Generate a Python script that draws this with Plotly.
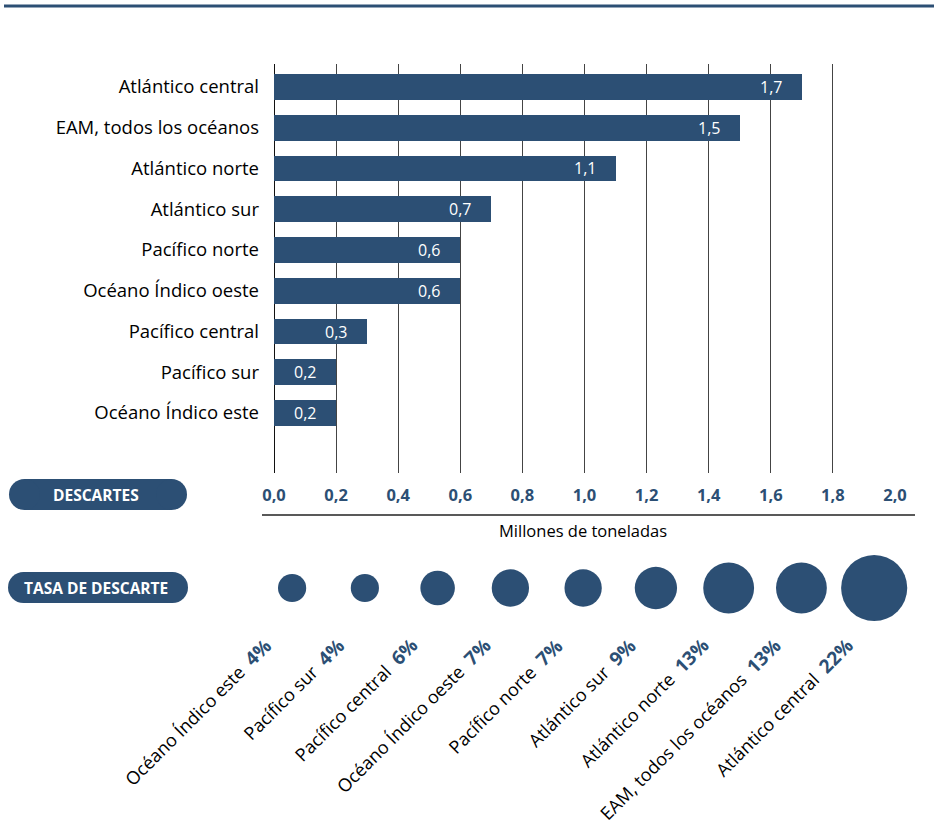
import math
import plotly.graph_objects as go

# ---------------- data ----------------
regions = [
    "Atlántico central",
    "EAM, todos los océanos",
    "Atlántico norte",
    "Atlántico sur",
    "Pacífico norte",
    "Océano Índico oeste",
    "Pacífico central",
    "Pacífico sur",
    "Océano Índico este",
]
descartes = [1.7, 1.5, 1.1, 0.7, 0.6, 0.6, 0.3, 0.2, 0.2]   # millones de toneladas
tasa = [22, 13, 13, 9, 7, 7, 6, 4, 4]                       # tasa de descarte, %
x_ticks = [0.0, 0.2, 0.4, 0.6, 0.8, 1.0, 1.2, 1.4, 1.6, 1.8, 2.0]
x_title = "Millones de toneladas"
pill_1 = "DESCARTES"
pill_2 = "TASA DE DESCARTE"

# ---------------- style ----------------
W, H = 934, 823
BLUE = "#2c4f74"
FONT = "Open Sans"


def X(px):
    return px / W


def Y(py):
    return 1 - py / H


def fmt(v):
    return f"{v:.1f}".replace(".", ",")


fig = go.Figure()

# bars
fig.add_trace(go.Bar(
    x=descartes, y=regions, orientation="h",
    marker=dict(color=BLUE, line=dict(width=0)),
    width=0.63, hoverinfo="skip", showlegend=False,
    xaxis="x", yaxis="y",
))

# circles (ascending order of rate)
c_regions = regions[::-1]
c_tasa = tasa[::-1]
c_idx = list(range(len(c_regions)))
fig.add_trace(go.Scatter(
    x=c_idx, y=[0] * len(c_idx), mode="markers",
    marker=dict(color=BLUE, size=[14.1 * math.sqrt(t) for t in c_tasa],
                line=dict(width=0), opacity=1),
    hoverinfo="skip", showlegend=False,
    xaxis="x2", yaxis="y2",
))

annotations = []
# bar value labels
for r, v in zip(regions, descartes):
    annotations.append(dict(
        x=v, y=r, xref="x", yref="y", text=fmt(v), showarrow=False,
        xanchor="right", yanchor="middle", xshift=-18,
        font=dict(family=FONT, size=16, color="white"),
    ))

# rotated labels under circles
for i, (r, t) in enumerate(zip(c_regions, c_tasa)):
    annotations.append(dict(
        x=i, y=0, xref="x2", yref="y2",
        text=(f"{r}\u00a0\u00a0<span style='color:{BLUE};font-size:19px'>"
              f"<b>{t}%</b></span>"),
        showarrow=False, textangle=-45, xanchor="right", yanchor="top",
        xshift=-12, yshift=-42,
        font=dict(family=FONT, size=18, color="black"),
    ))

# x title
annotations.append(dict(
    x=X(583), y=Y(530), xref="paper", yref="paper", text=x_title,
    showarrow=False, xanchor="center", yanchor="middle",
    font=dict(family=FONT, size=16.5, color="black"),
))

shapes = []
# top rule
shapes.append(dict(type="line", xref="paper", yref="paper",
                   x0=X(4), x1=1, y0=Y(6), y1=Y(6),
                   line=dict(color=BLUE, width=3)))
# axis rule under tick labels
shapes.append(dict(type="line", xref="paper", yref="paper",
                   x0=X(262), x1=X(915), y0=Y(515), y1=Y(515),
                   line=dict(color="#222222", width=1.5)))


def pill(x0, x1, y0, y1, label, size):
    r = (y1 - y0) / 2
    shapes.append(dict(type="rect", xref="paper", yref="paper",
                       x0=X(x0 + r), x1=X(x1 - r), y0=Y(y1), y1=Y(y0),
                       fillcolor=BLUE, line=dict(width=0)))
    for cx0 in (x0, x1 - 2 * r):
        shapes.append(dict(type="circle", xref="paper", yref="paper",
                           x0=X(cx0), x1=X(cx0 + 2 * r), y0=Y(y1), y1=Y(y0),
                           fillcolor=BLUE, line=dict(width=0)))
    annotations.append(dict(
        x=X((x0 + x1) / 2 - 2), y=Y((y0 + y1) / 2), xref="paper", yref="paper",
        text=f"<b>{label}</b>", showarrow=False, xanchor="center", yanchor="middle",
        font=dict(family=FONT, size=size, color="white"),
    ))


pill(9, 187, 479, 510, pill_1, 15.5)
pill(8, 188, 572, 603, pill_2, 15.5)

fig.update_layout(
    width=W, height=H, autosize=False,
    margin=dict(l=0, r=0, t=0, b=0, pad=0, autoexpand=False),
    paper_bgcolor="white", plot_bgcolor="rgba(0,0,0,0)",
    font=dict(family=FONT, color="black"),
    separators=",.",
    bargap=0,
    xaxis=dict(
        domain=[X(274), X(895)], range=[0, 2.0],
        tickvals=x_ticks, ticktext=[fmt(v) for v in x_ticks],
        tickfont=dict(family=FONT, size=16.5, color=BLUE, weight="bold"),
        showgrid=True, gridcolor="#444444", gridwidth=1,
        zeroline=True, zerolinecolor="#111111", zerolinewidth=1.2,
        showline=False, ticks="", ticklabelstandoff=10,
        fixedrange=True, automargin=False,
    ),
    yaxis=dict(
        domain=[Y(473), Y(64)],
        type="category", categoryorder="array", categoryarray=regions,
        range=[9.472, -0.564],
        tickfont=dict(family=FONT, size=18.5, color="black"),
        showgrid=False, zeroline=False, showline=False, ticks="",
        ticklabelstandoff=14, fixedrange=True, automargin=False,
    ),
    xaxis2=dict(domain=[0, 1], range=[-292.1 / 72.76, (W - 292.1) / 72.76],
                visible=False, fixedrange=True, anchor="y2", automargin=False),
    yaxis2=dict(domain=[0, 1], range=[-(H - 588), 588],
                visible=False, fixedrange=True, anchor="x2", automargin=False),
    annotations=annotations,
    shapes=shapes,
)

fig.write_html("out.html")
